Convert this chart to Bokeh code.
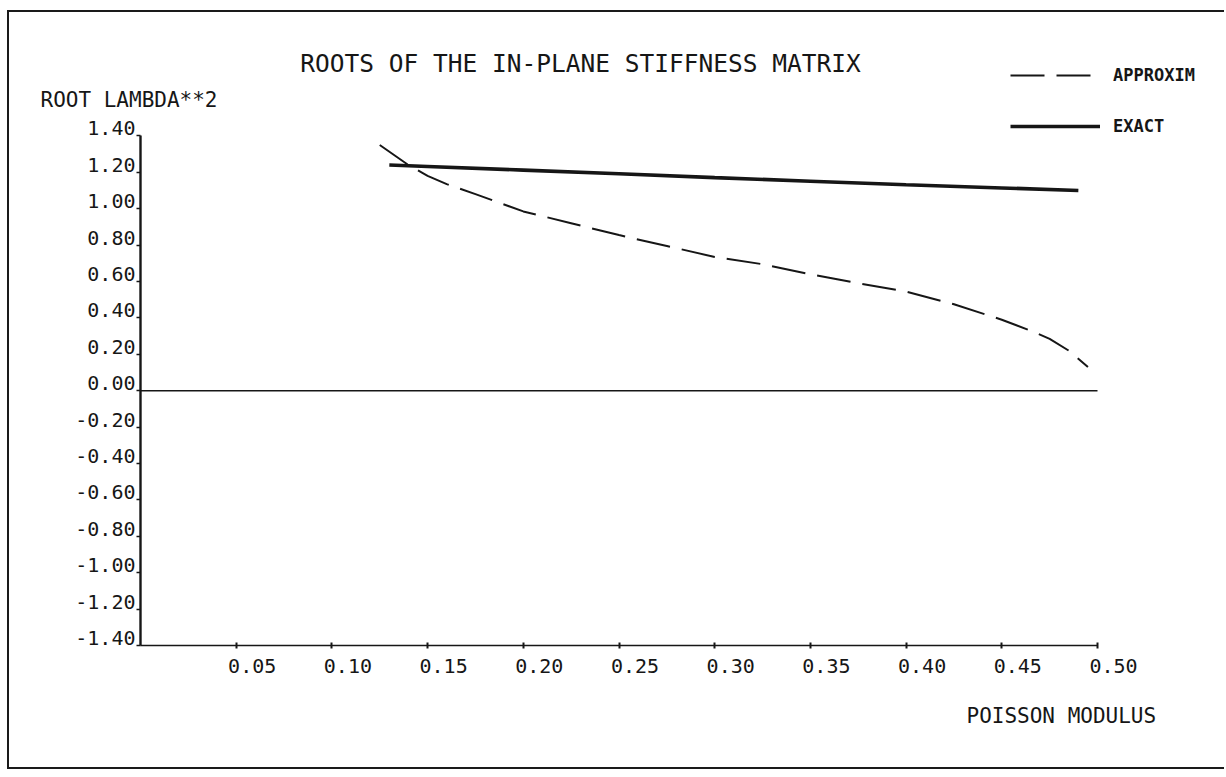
from bokeh.plotting import figure
from bokeh.models import (Range1d, LinearAxis, FixedTicker, PrintfTickFormatter,
                          Label, Legend, LegendItem)
from bokeh.embed import file_html
from bokeh.resources import INLINE

# ---------------- data ----------------
title_text = "ROOTS OF THE IN-PLANE STIFFNESS MATRIX"
y_title = "ROOT LAMBDA**2"
x_title = "POISSON MODULUS"

x_ticks = [0.05, 0.10, 0.15, 0.20, 0.25, 0.30, 0.35, 0.40, 0.45, 0.50]
y_ticks = [1.40, 1.20, 1.00, 0.80, 0.60, 0.40, 0.20, 0.00,
           -0.20, -0.40, -0.60, -0.80, -1.00, -1.20, -1.40]

approx_x = [0.125, 0.140, 0.150, 0.160, 0.175, 0.200, 0.225, 0.250, 0.275,
            0.300, 0.325, 0.350, 0.375, 0.400, 0.425, 0.450, 0.465, 0.475,
            0.485, 0.495]
approx_y = [1.35, 1.24, 1.18, 1.135, 1.08, 0.985, 0.92, 0.855, 0.795,
            0.735, 0.695, 0.64, 0.59, 0.545, 0.475, 0.39, 0.33, 0.285,
            0.22, 0.13]

exact_x = [0.130, 0.150, 0.200, 0.250, 0.300, 0.350, 0.400, 0.450, 0.490]
exact_y = [1.24, 1.232, 1.212, 1.192, 1.171, 1.151, 1.132, 1.114, 1.10]

# ---------------- geometry ----------------
INK = "#161616"
W, H = 1217, 759          # canvas size
FL = 131                  # frame left (canvas px)
FB = 633                  # frame bottom (canvas px)
PXX = 1914.0              # px per x unit
PXY = 182.0               # px per y unit
OX, OY = 9, 12            # canvas origin on page
ZERO_PAGE_Y = OY + FB - 1.40 * PXY


def dx(page_x):
    return (page_x - (OX + FL)) / PXX


def dy(page_y):
    return (ZERO_PAGE_Y - page_y) / PXY


x0, x1 = 0.0, (W - FL) / PXX
y0 = y_ticks[-1]
y1 = y0 + FB / PXY

p = figure(width=W, height=H, x_range=Range1d(x0, x1), y_range=Range1d(y0, y1),
           output_backend="svg", toolbar_location=None,
           x_axis_type=None, y_axis_type=None,
           min_border_left=FL, min_border_bottom=H - FB,
           min_border_top=0, min_border_right=0)
p.background_fill_color = "white"
p.border_fill_color = "white"
p.outline_line_color = None
p.xgrid.visible = False
p.ygrid.visible = False
p.styles = {"border-left": "2px solid #1a1a1a",
            "border-top": "2px solid #1a1a1a",
            "border-bottom": "2px solid #1a1a1a",
            "margin-left": "7px", "margin-top": "10px"}

# label offsets (labels sit left-aligned / on baseline as a pen plotter draws them)
LAB_DX = 16 / PXX
LAB_DY = 7.5 / PXY
p.extra_x_ranges = {"xlab": Range1d(x0 - LAB_DX, x1 - LAB_DX)}
p.extra_y_ranges = {"ylab": Range1d(y0 - LAB_DY, y1 - LAB_DY)}

FONT = "DejaVu Sans Mono"

# x axis: line + ticks
xa = LinearAxis(ticker=FixedTicker(ticks=x_ticks), bounds=(0.0, x_ticks[-1]),
                major_label_overrides={t: "" for t in x_ticks},
                major_label_text_font_size="1px", major_label_standoff=0,
                axis_line_color=INK, axis_line_width=1.6,
                major_tick_in=3, major_tick_out=3,
                major_tick_line_color=INK, major_tick_line_width=2,
                minor_tick_line_color=None)
# x axis: labels
xl = LinearAxis(x_range_name="xlab", ticker=FixedTicker(ticks=x_ticks),
                formatter=PrintfTickFormatter(format="%.2f"),
                axis_line_color=None, major_tick_line_color=None,
                minor_tick_line_color=None, major_tick_in=0, major_tick_out=0,
                major_label_standoff=10, major_label_text_font=FONT,
                major_label_text_font_size="20px", major_label_text_color=INK)
p.add_layout(xa, "below")
p.add_layout(xl, "below")

# y axis: line + ticks
ya = LinearAxis(ticker=FixedTicker(ticks=y_ticks), bounds=(y_ticks[-1], y_ticks[0]),
                major_label_overrides={t: "" for t in y_ticks},
                major_label_text_font_size="1px", major_label_standoff=0,
                axis_line_color=INK, axis_line_width=2.4,
                major_tick_in=0, major_tick_out=4,
                major_tick_line_color=INK, major_tick_line_width=1.5,
                minor_tick_line_color=None)
yl = LinearAxis(y_range_name="ylab", ticker=FixedTicker(ticks=y_ticks),
                formatter=PrintfTickFormatter(format="%.2f"),
                axis_line_color=None, major_tick_line_color=None,
                minor_tick_line_color=None, major_tick_in=0, major_tick_out=0,
                major_label_standoff=1, major_label_text_font=FONT,
                major_label_text_font_size="20px", major_label_text_color=INK)
p.add_layout(ya, "left")
p.add_layout(yl, "left")

# zero reference line
p.line(x=[0.0, x_ticks[-1]], y=[0.0, 0.0], line_color=INK, line_width=1.4)

# curves
r_ap = p.line(approx_x, approx_y, line_color=INK, line_width=2.0, line_dash="34 12")
r_ex = p.line(exact_x, exact_y, line_color=INK, line_width=3.6)

legend = Legend(items=[LegendItem(label="APPROXIM", renderers=[r_ap]),
                       LegendItem(label="EXACT", renderers=[r_ex])],
                location=(1010 - (OX + FL), (OY + FB) - 136),
                glyph_width=90, glyph_height=20, label_height=20, spacing=31,
                padding=0, margin=0, label_standoff=13,
                border_line_color=None, background_fill_alpha=0,
                label_text_font=FONT, label_text_font_size="17px",
                label_text_font_style="bold", label_text_color=INK)
p.add_layout(legend)

# texts (the two axis titles live in the bottom panel so they are not clipped)
p.add_layout(Label(x=dx(580), y=dy(63), text=title_text, text_align="center",
                   text_baseline="alphabetic", text_font=FONT,
                   text_font_size="24.5px", text_color=INK))
p.add_layout(Label(x=dx(40), y=dy(99), text=y_title, text_align="left",
                   text_baseline="alphabetic", text_font=FONT,
                   text_font_size="21px", text_color=INK), "below")
p.add_layout(Label(x=dx(966), y=dy(715), text=x_title, text_align="left",
                   text_baseline="alphabetic", text_font=FONT,
                   text_font_size="21px", text_color=INK), "below")

open("out.html", "w").write(file_html(p, INLINE))
